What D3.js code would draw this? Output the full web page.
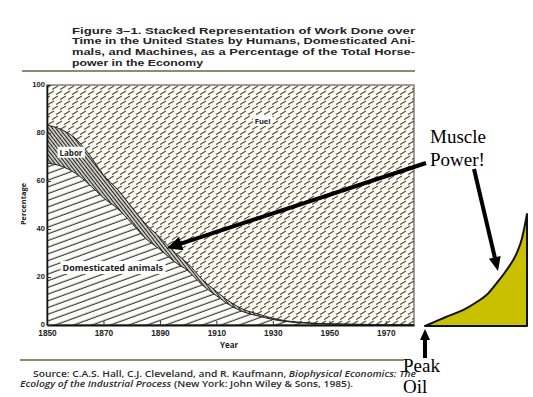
<!DOCTYPE html>
<html>
<head>
<meta charset="utf-8">
<script src="https://cdn.jsdelivr.net/npm/d3@7"></script>
<style>
  body { margin: 0; background: #fff; }
  svg { display: block; }
  .title { font-family: "Liberation Sans", Arial, sans-serif; font-weight: 700; font-size: 9.4px; fill: #232323; }
  .source { font-family: "Open Sans", sans-serif; font-weight: 600; font-size: 8.4px; fill: #2a2a2a; }
  .axis text { font-family: "Liberation Sans", Arial, sans-serif; font-weight: 700; fill: #222; }
  .axis-label { font-family: "Open Sans", sans-serif; font-weight: 700; font-size: 7.5px; fill: #222; }
  .area-label { font-family: "Open Sans", sans-serif; font-weight: 700; fill: #222; }
  .note { font-family: "Liberation Serif", "Times New Roman", serif; font-size: 19px; fill: #000; }
</style>
</head>
<body>
<svg id="chart"></svg>
<script>
// ---- data ----
const years   = [1850, 1855, 1860, 1865, 1870, 1875, 1880, 1885, 1890, 1895, 1900, 1905, 1910,
                 1915, 1920, 1925, 1930, 1935, 1940, 1945, 1950, 1955, 1960, 1965, 1970, 1975, 1980]
const animals = [67.5, 66.2, 63.3, 58.5, 53.0, 48.5, 42.4, 36.0, 31.5, 26.5, 22.5, 16.7, 12.2,
                 8.1, 5.3, 3.7, 2.3, 1.4, 0.9, 0.6, 0.4, 0.3, 0.2, 0.15, 0.1, 0.05, 0]
const labor   = [15.8, 15.3, 14.5, 12.5, 9.5, 8.0, 6.8, 6.0, 5.0, 4.0, 3.0, 2.3, 1.8,
                 1.4, 1.0, 0.8, 0.5, 0.3, 0.2, 0.1, 0.1, 0.1, 0.1, 0.05, 0.05, 0.05, 0.05]
const yTicks  = [0, 20, 40, 60, 80, 100]
const xTicks  = [1850, 1870, 1890, 1910, 1930, 1950, 1970]

// the hand-drawn "peak oil" curve next to the chart
const oilSteps = [0, 1, 2, 3, 4, 5, 6, 7, 8, 9, 9.5, 10]
const oilLevel = [0, 3.9, 7.8, 11.5, 15.6, 21, 27.4, 38, 50, 65.2, 78, 100]

const rows = years.map((yr, i) => ({
  year: yr,
  animals: animals[i],
  labor: labor[i],
  fuel: 100 - animals[i] - labor[i]
}))

// ---- svg ----
const width = 533, height = 397
const plot = { left: 47, right: 414, top: 85, bottom: 325 }

const svg = d3.select('#chart').attr('width', width).attr('height', height)

// scales
const x = d3.scaleLinear().domain([1850, 1980]).range([plot.left, plot.right])
const y = d3.scaleLinear().domain([0, 100]).range([plot.bottom, plot.top])

// hatch patterns
const defs = svg.append('defs')

// fuel: short dashes
const pf = defs.append('pattern').attr('id', 'hatchFuel')
  .attr('patternUnits', 'userSpaceOnUse').attr('width', 8).attr('height', 10)
pf.append('rect').attr('width', 8).attr('height', 10).attr('fill', '#fbfbf2')
pf.append('path')
  .attr('d', 'M0.5,4.3L5.5,1.2M4.5,9.3L9.5,6.2M-3.5,9.3L1.5,6.2')
  .attr('stroke', '#4b4b3c').attr('stroke-width', 1.1).attr('stroke-linecap', 'round')

// domesticated animals: long shallow lines
const pa = defs.append('pattern').attr('id', 'hatchAnimals')
  .attr('patternUnits', 'userSpaceOnUse').attr('width', 12).attr('height', 6.3)
  .attr('patternTransform', 'rotate(-20)')
pa.append('rect').attr('width', 12).attr('height', 6.3).attr('fill', '#fdfdf8')
pa.append('line').attr('x1', 0).attr('x2', 12).attr('y1', 3).attr('y2', 3)
  .attr('stroke', '#2c2c2c').attr('stroke-width', 1.1)

// labor: dense steep lines
const pl = defs.append('pattern').attr('id', 'hatchLabor')
  .attr('patternUnits', 'userSpaceOnUse').attr('width', 10).attr('height', 2.8)
  .attr('patternTransform', 'rotate(52)')
pl.append('rect').attr('width', 10).attr('height', 2.8).attr('fill', '#f4f4ea')
pl.append('line').attr('x1', 0).attr('x2', 10).attr('y1', 1.4).attr('y2', 1.4)
  .attr('stroke', '#1e1e1e').attr('stroke-width', 1.3)

// stacked areas
const stack = d3.stack().keys(['animals', 'labor', 'fuel'])
const series = stack(rows)
const fills = { animals: 'url(#hatchAnimals)', labor: 'url(#hatchLabor)', fuel: 'url(#hatchFuel)' }

const area = d3.area()
  .x(d => x(d.data.year))
  .y0(d => y(d[0]))
  .y1(d => y(d[1]))
  .curve(d3.curveMonotoneX)

svg.append('g').selectAll('path')
  .data(series)
  .enter().append('path')
  .attr('d', area)
  .attr('fill', d => fills[d.key])

// boundary lines between layers
const edge = d3.line()
  .x(d => x(d.data.year))
  .y(d => y(d[1]))
  .curve(d3.curveMonotoneX)

svg.append('g').selectAll('path')
  .data(series.slice(0, 2))
  .enter().append('path')
  .attr('d', edge)
  .attr('fill', 'none')
  .attr('stroke', '#1a1a1a')
  .attr('stroke-width', 1)

// frame
svg.append('rect')
  .attr('x', plot.left).attr('y', plot.top)
  .attr('width', plot.right - plot.left).attr('height', plot.bottom - plot.top)
  .attr('fill', 'none').attr('stroke', '#444').attr('stroke-width', 1)

// axes
const xAxis = d3.axisBottom(x).tickValues(xTicks).tickFormat(d3.format('d'))
  .tickSizeInner(-4).tickSizeOuter(0).tickPadding(3)
const yAxis = d3.axisLeft(y).tickValues(yTicks)
  .tickSizeInner(-4).tickSizeOuter(0).tickPadding(2)

const gx = svg.append('g').attr('class', 'axis')
  .attr('transform', `translate(0,${plot.bottom})`)
  .call(xAxis)
gx.select('.domain').attr('stroke', '#111').attr('stroke-width', 2)
gx.selectAll('.tick line').attr('stroke', '#333')
gx.selectAll('text').style('font-size', '8.3px').attr('dy', '0.95em')

const gy = svg.append('g').attr('class', 'axis')
  .attr('transform', `translate(${plot.left},0)`)
  .call(yAxis)
gy.select('.domain').attr('stroke', '#111').attr('stroke-width', 1.6)
gy.selectAll('.tick line').attr('stroke', '#333')
gy.selectAll('text').style('font-size', '7.6px').attr('dy', '0.2em')

// axis titles
svg.append('text').attr('class', 'axis-label')
  .attr('transform', `translate(26,${(plot.top + plot.bottom) / 2 - 1}) rotate(-90)`)
  .attr('text-anchor', 'middle')
  .text('Percentage')

svg.append('text').attr('class', 'axis-label')
  .attr('x', 229).attr('y', 348)
  .attr('text-anchor', 'middle')
  .style('font-size', '8px')
  .text('Year')

// labels inside the areas, with a white patch behind
function areaLabel(text, year, value, size) {
  const g = svg.append('g')
  const t = g.append('text').attr('class', 'area-label')
    .attr('x', x(year)).attr('y', y(value))
    .attr('text-anchor', 'middle').attr('dy', '0.35em')
    .style('font-size', size + 'px')
    .text(text)
  const b = t.node().getBBox()
  g.insert('rect', 'text')
    .attr('x', b.x - 2).attr('y', b.y)
    .attr('width', b.width + 4).attr('height', b.height)
    .attr('fill', '#fff')
}
areaLabel('Fuel', 1926.4, 85, 7.5)
areaLabel('Labor', 1858.5, 71.7, 8)
areaLabel('Domesticated animals', 1873.3, 23.8, 9)

// title
const titleLines = [
  'Figure 3\u20131.  Stacked Representation of Work Done over',
  'Time in the United States by Humans, Domesticated Ani-',
  'mals, and Machines, as a Percentage of the Total Horse-',
  'power in the Economy'
]
const titleWidths = [343, 343, 343, 131]
svg.append('g').selectAll('text')
  .data(titleLines)
  .enter().append('text')
  .attr('class', 'title')
  .attr('x', 72)
  .attr('y', (d, i) => 33.5 + i * 10.7)
  .attr('textLength', (d, i) => titleWidths[i])
  .attr('lengthAdjust', 'spacingAndGlyphs')
  .text(d => d)

// rules
svg.append('line').attr('x1', 22).attr('x2', 415).attr('y1', 71).attr('y2', 71)
  .attr('stroke', '#8d8c72').attr('stroke-width', 2)
svg.append('line').attr('x1', 20).attr('x2', 404).attr('y1', 360).attr('y2', 360)
  .attr('stroke', '#8d8c72').attr('stroke-width', 2)

// source
const s1 = svg.append('text').attr('class', 'source')
  .attr('x', 33).attr('y', 377)
  .attr('textLength', 383).attr('lengthAdjust', 'spacingAndGlyphs')
s1.append('tspan').text('Source: C.A.S. Hall, C.J. Cleveland, and R. Kaufmann, ')
s1.append('tspan').style('font-style', 'italic').text('Biophysical Economics: The')

const s2 = svg.append('text').attr('class', 'source')
  .attr('x', 20).attr('y', 387)
  .attr('textLength', 333).attr('lengthAdjust', 'spacingAndGlyphs')
s2.append('tspan').style('font-style', 'italic').text('Ecology of the Industrial Process')
s2.append('tspan').text(' (New York: John Wiley & Sons, 1985).')

// ---- peak oil overlay ----
const ox = d3.scaleLinear().domain([0, 10]).range([425, 527])
const oy = d3.scaleLinear().domain([0, 100]).range([326, 214])

const oilArea = d3.area()
  .x((d, i) => ox(oilSteps[i]))
  .y0(oy(0))
  .y1(d => oy(d))
  .curve(d3.curveMonotoneX)

svg.append('path')
  .datum(oilLevel)
  .attr('d', oilArea)
  .attr('fill', '#c9c000')
  .attr('stroke', '#111')
  .attr('stroke-width', 2)
  .attr('stroke-linejoin', 'round')

// arrows
function arrow(x1, y1, x2, y2, w, len, half) {
  const a = Math.atan2(y2 - y1, x2 - x1)
  const bx = x2 - len * Math.cos(a), by = y2 - len * Math.sin(a)
  svg.append('line')
    .attr('x1', x1).attr('y1', y1)
    .attr('x2', x2 - (len - 2) * Math.cos(a)).attr('y2', y2 - (len - 2) * Math.sin(a))
    .attr('stroke', '#000').attr('stroke-width', w)
  const px = -Math.sin(a) * half, py = Math.cos(a) * half
  svg.append('polygon')
    .attr('points', `${x2},${y2} ${bx + px},${by + py} ${bx - px},${by - py}`)
    .attr('fill', '#000')
}
arrow(426, 163, x(1892.5), y(32), 4, 15, 7)
arrow(474, 169, 498, 271, 4, 14, 6)
arrow(ox(0), 358, ox(0), oy(0) + 3, 4, 11, 5)

// notes
svg.append('text').attr('class', 'note').attr('x', 430).attr('y', 143).text('Muscle')
svg.append('text').attr('class', 'note').attr('x', 430).attr('y', 165.5).text('Power!')
svg.append('text').attr('class', 'note').attr('x', 403).attr('y', 372).text('Peak')
svg.append('text').attr('class', 'note').attr('x', 403).attr('y', 393).text('Oil')
</script>
</body>
</html>
